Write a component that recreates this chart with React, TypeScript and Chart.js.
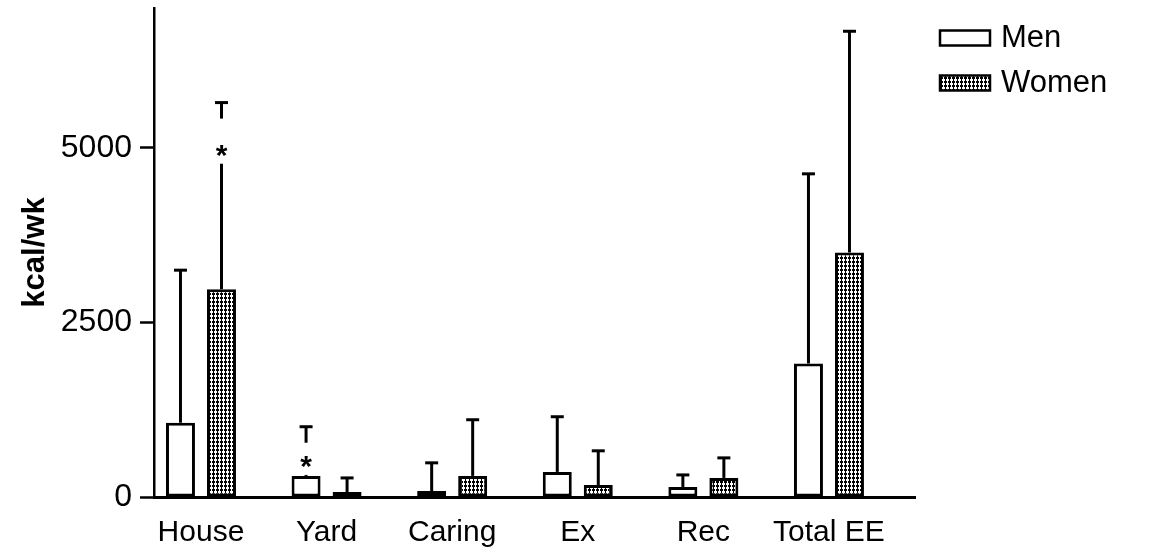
import React, { useEffect, useRef } from 'react';
import { Chart, registerables } from 'chart.js';

Chart.register(...registerables);

// ---- data ----
const categories = ['House', 'Yard', 'Caring', 'Ex', 'Rec', 'Total EE'];
const seriesNames = ['Men', 'Women'];
const menMean = [1063, 302, 86, 359, 144, 1911];
const menSD = [2184, 704, 403, 790, 172, 2715];
const womenMean = [2974, 72, 302, 172, 273, 3500];
const womenSD = [2672, 201, 804, 489, 287, 3167];
const yTicks = [0, 2500, 5000];
const yMin = 0;
const yMax = 7000;
// significance asterisks
const starCategory = [0, 1];
const starSeries = [1, 0];
const starValue = [5000, 545];

const FONT = "'Liberation Sans', Arial, Helvetica, sans-serif";

function makePattern(): CanvasPattern | string {
  const tile = document.createElement('canvas');
  tile.width = 4;
  tile.height = 4;
  const c = tile.getContext('2d');
  if (!c) return '#888';
  c.fillStyle = '#fff';
  c.fillRect(0, 0, 4, 4);
  c.fillStyle = '#000';
  c.fillRect(0, 1, 3, 2);
  c.fillRect(1, 0, 1, 4);
  const p = c.createPattern(tile, 'repeat');
  return p || '#888';
}

export default function App() {
  const ref = useRef<HTMLCanvasElement | null>(null);

  useEffect(() => {
    const canvas = ref.current;
    if (!canvas) return;
    const pattern = makePattern();
    const means = [menMean, womenMean];
    const sds = [menSD, womenSD];
    const fills: any[] = ['#ffffff', pattern];

    const errorBars = {
      id: 'errorBars',
      afterDatasetsDraw(chart: any) {
        const ctx = chart.ctx;
        const ys = chart.scales.y;
        ctx.save();
        ctx.strokeStyle = '#000';
        ctx.lineWidth = 3;
        ctx.lineCap = 'butt';
        chart.data.datasets.forEach((_ds: any, di: number) => {
          const meta = chart.getDatasetMeta(di);
          meta.data.forEach((bar: any, i: number) => {
            const top = ys.getPixelForValue(means[di][i] + sds[di][i]);
            ctx.beginPath();
            ctx.moveTo(bar.x, bar.y);
            ctx.lineTo(bar.x, top);
            ctx.stroke();
            ctx.beginPath();
            ctx.moveTo(bar.x - 6.5, top);
            ctx.lineTo(bar.x + 6.5, top);
            ctx.stroke();
          });
        });
        starCategory.forEach((ci, k) => {
          const si = starSeries[k];
          const bar: any = chart.getDatasetMeta(si).data[ci];
          const top = ys.getPixelForValue(means[si][ci] + sds[si][ci]);
          const sy = ys.getPixelForValue(starValue[k]);
          const gapTop = top + 16;
          const gapBottom = Math.min(sy + 16, bar.y - 1);
          ctx.fillStyle = '#fff';
          ctx.fillRect(bar.x - 3, gapTop, 6, gapBottom - gapTop);
          ctx.fillStyle = '#000';
          ctx.font = `bold 30px ${FONT}`;
          ctx.textAlign = 'center';
          ctx.textBaseline = 'alphabetic';
          ctx.fillText('*', bar.x, sy + 17);
        });
        ctx.restore();
      },
    };

    const legendPlugin = {
      id: 'customLegend',
      afterDraw(chart: any) {
        const ctx = chart.ctx;
        ctx.save();
        const x0 = 940;
        const rows = [38, 83];
        seriesNames.forEach((name, i) => {
          const cy = rows[i];
          ctx.fillStyle = fills[i];
          ctx.fillRect(x0, cy - 7.5, 50, 15);
          ctx.strokeStyle = '#000';
          ctx.lineWidth = 2.5;
          ctx.strokeRect(x0, cy - 7.5, 50, 15);
          ctx.fillStyle = '#000';
          ctx.font = `31px ${FONT}`;
          ctx.textAlign = 'left';
          ctx.textBaseline = 'middle';
          ctx.fillText(name, x0 + 61, cy);
        });
        ctx.restore();
      },
    };

    const chart = new Chart(canvas, {
      type: 'bar',
      data: {
        datasets: seriesNames.map((name, di) => ({
          label: name,
          data: means[di].map((v, i) => ({ x: i, y: v })),
          backgroundColor: fills[di],
          borderColor: '#000',
          borderWidth: 3,
          borderSkipped: false,
          categoryPercentage: 0.653,
          barPercentage: 0.707,
        })),
      },
      options: {
        animation: false,
        responsive: true,
        maintainAspectRatio: false,
        layout: { padding: { left: 0, top: 8, right: 236, bottom: 0 } },
        plugins: {
          legend: { display: false },
          tooltip: { enabled: false },
        },
        scales: {
          x: {
            type: 'linear',
            offset: false,
            min: -0.374,
            max: 5.685,
            grid: { display: false, drawTicks: false, offset: false },
            border: { display: true, color: '#000', width: 3 },
            afterBuildTicks: (scale: any) => {
              scale.ticks = categories.map((_c, i) => ({ value: i }));
            },
            afterFit: (scale: any) => {
              scale.height = 57;
              scale.paddingLeft = 0;
              scale.paddingRight = 0;
            },
            ticks: {
              autoSkip: false,
              maxRotation: 0,
              padding: 18,
              color: '#000',
              font: { family: FONT, size: 30 },
              callback: (v: any) => categories[v] ?? '',
            },
          },
          y: {
            type: 'linear',
            min: yMin,
            max: yMax,
            grid: {
              drawOnChartArea: false,
              drawTicks: true,
              tickLength: 14,
              tickWidth: 2.5,
              tickColor: '#000',
            },
            border: { display: true, color: '#000', width: 2.5 },
            afterBuildTicks: (scale: any) => {
              scale.ticks = yTicks.map((v) => ({ value: v }));
            },
            afterFit: (scale: any) => {
              scale.width = 154;
              scale.paddingTop = 0;
              scale.paddingBottom = 0;
            },
            ticks: {
              padding: 8,
              color: '#000',
              font: { family: FONT, size: 32 },
              callback: (v: any) => String(v),
            },
            title: {
              display: true,
              text: 'kcal/wk',
              color: '#000',
              font: { family: FONT, size: 31, weight: 'bold' },
              padding: { top: 17, bottom: 0 },
            },
          },
        },
      },
      plugins: [errorBars, legendPlugin],
    } as any);

    return () => chart.destroy();
  }, []);

  return (
    <div style={{ position: 'fixed', left: 0, top: 0, width: 1151, height: 554, background: '#fff' }}>
      <canvas ref={ref} />
    </div>
  );
}
